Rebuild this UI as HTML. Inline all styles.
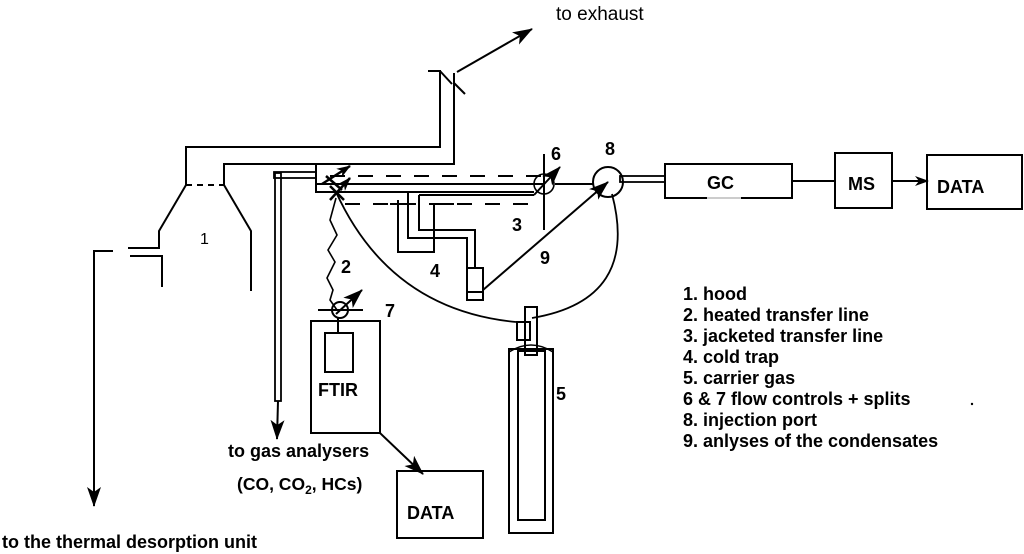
<!DOCTYPE html>
<html><head><meta charset="utf-8"><style>
html,body{margin:0;padding:0;background:#fff;}
svg{display:block;}
text{font-family:"Liberation Sans",Arial,sans-serif;fill:#000;}
.b{font-weight:bold;}
</style></head><body>
<svg width="1024" height="554" viewBox="0 0 1024 554" xmlns="http://www.w3.org/2000/svg">
<defs>
<marker id="a" markerWidth="14" markerHeight="10" refX="13" refY="5" orient="auto" markerUnits="userSpaceOnUse"><path d="M0,0 L14,5 L0,10 L4,5 Z" fill="#000"/></marker>
<marker id="b" markerWidth="20" markerHeight="14" refX="19" refY="7" orient="auto" markerUnits="userSpaceOnUse"><path d="M0,0 L20,7 L0,14 L5,7 Z" fill="#000"/></marker>
</defs>
<g fill="none" stroke="#000" stroke-width="2">
<polyline points="186,185 186,147 440,147 440,71 428,71"/>
<line x1="440" y1="71" x2="452" y2="84"/>
<polyline points="224,185 224,164 454,164 454,73"/>
<line x1="454" y1="83" x2="465" y2="94"/>
<line x1="186" y1="185" x2="224" y2="185" stroke-dasharray="6,5"/>
<polyline points="186,185 159,231 159,248 128,248"/>
<polyline points="130,256 162,256 162,287"/>
<polyline points="224,185 251,231 251,291"/>
<line x1="457" y1="72" x2="532" y2="29" marker-end="url(#b)"/>
<polyline points="113,251 94,251 94,506" marker-end="url(#b)"/>
<rect x="274" y="172" width="42" height="6" stroke-width="1.8"/>
<rect x="275" y="173" width="6" height="228" stroke-width="1.8"/>
<line x1="278" y1="401" x2="277" y2="439" marker-end="url(#b)"/>
<polyline points="316,165 316,192 534,192"/>
<line x1="316" y1="184" x2="544" y2="184"/>
<line x1="330" y1="176" x2="548" y2="176" stroke-dasharray="15,13"/>
<line x1="345" y1="204" x2="540" y2="204" stroke-dasharray="15,13"/>
<line x1="544" y1="154" x2="544" y2="230"/>
<circle cx="544" cy="184" r="10" stroke-width="1.6"/>
<line x1="534" y1="195" x2="560" y2="167" marker-end="url(#b)"/>
<line x1="555" y1="184" x2="593" y2="184"/>
<polyline points="398,200 398,252 434,252 434,204 454,204"/>
<line x1="390" y1="204" x2="410" y2="204"/>
<polyline points="408,192 408,238 467,238 467,268"/>
<polyline points="419,195 419,230 475,230 475,268"/>
<line x1="419" y1="195" x2="534" y2="195"/>
<rect x="467" y="268" width="16" height="32"/>
<line x1="468" y1="292" x2="482" y2="292"/>
<line x1="483" y1="290" x2="608" y2="182" marker-end="url(#b)"/>
<circle cx="608" cy="182" r="15"/>
<rect x="620" y="176" width="45" height="6" stroke-width="1.8"/>
<path d="M336,192 Q390,310 516,322" stroke-width="1.8"/>
<path d="M532,318 Q640,300 612,194" stroke-width="1.8"/>
<line x1="322" y1="184" x2="350" y2="166" stroke-width="2.5" marker-end="url(#a)"/>
<line x1="330" y1="200" x2="350" y2="178" stroke-width="2.5" marker-end="url(#a)"/>
<line x1="326" y1="176" x2="342" y2="190" stroke-width="2.5"/>
<line x1="330" y1="186" x2="344" y2="200" stroke-width="2.5"/>
<polyline points="336,198 330,220 337,235 328,250 335,262 327,278 333,290 330,300 337,310" stroke-width="1.6"/>
<line x1="318" y1="310" x2="363" y2="310"/>
<circle cx="340" cy="310" r="8"/>
<line x1="336" y1="314" x2="362" y2="290" marker-end="url(#b)"/>
<line x1="338" y1="318" x2="338" y2="333"/>
<rect x="311" y="321" width="69" height="112"/>
<rect x="325" y="333" width="28" height="39"/>
<line x1="380" y1="433" x2="423" y2="474" marker-end="url(#b)"/>
<rect x="397" y="471" width="86" height="67"/>
<rect x="509" y="349" width="44" height="184"/>
<rect x="518" y="351" width="27" height="169"/>
<path d="M509,352 Q531,338 553,352" stroke-width="1.6"/>
<rect x="525" y="307" width="12" height="48"/>
<rect x="517" y="322" width="13" height="18"/>
<rect x="665" y="164" width="127" height="34"/>
<line x1="792" y1="181" x2="835" y2="181"/>
<rect x="835" y="153" width="57" height="55"/>
<line x1="892" y1="181" x2="928" y2="181" marker-end="url(#a)"/>
<rect x="927" y="155" width="95" height="54"/>
</g>
<line x1="707" y1="198" x2="741" y2="198" stroke="#ccc" stroke-width="2"/>
<text x="556" y="20" font-size="19">to exhaust</text>
<text x="200" y="244" font-size="16">1</text>
<text x="341" y="273" font-size="18" class="b">2</text>
<text x="512" y="231" font-size="18" class="b">3</text>
<text x="430" y="277" font-size="18" class="b">4</text>
<text x="556" y="400" font-size="18" class="b">5</text>
<text x="551" y="160" font-size="18" class="b">6</text>
<text x="385" y="317" font-size="18" class="b">7</text>
<text x="605" y="155" font-size="18" class="b">8</text>
<text x="540" y="264" font-size="18" class="b">9</text>
<text x="318" y="396" font-size="18" class="b">FTIR</text>
<text x="407" y="519" font-size="18" class="b">DATA</text>
<text x="707" y="189" font-size="18" class="b">GC</text>
<text x="848" y="190" font-size="18" class="b">MS</text>
<text x="937" y="193" font-size="18" class="b">DATA</text>
<text x="228" y="457" font-size="18" class="b">to gas analysers</text>
<text x="237" y="490" font-size="17.5" class="b">(CO, CO<tspan font-size="12" dy="4">2</tspan><tspan dy="-4">, HCs)</tspan></text>
<text x="2" y="548" font-size="18" class="b">to the thermal desorption unit</text>
<g font-size="18" class="b">
<text x="683" y="300">1. hood</text>
<text x="683" y="321">2. heated transfer line</text>
<text x="683" y="342">3. jacketed transfer line</text>
<text x="683" y="363">4. cold trap</text>
<text x="683" y="384">5. carrier gas</text>
<text x="683" y="405">6 &amp; 7 flow controls + splits</text>
<text x="683" y="426">8. injection port</text>
<text x="683" y="447">9. anlyses of the condensates</text>
</g>
<circle cx="972" cy="404" r="1.2" fill="#000"/>
</svg>
</body></html>
